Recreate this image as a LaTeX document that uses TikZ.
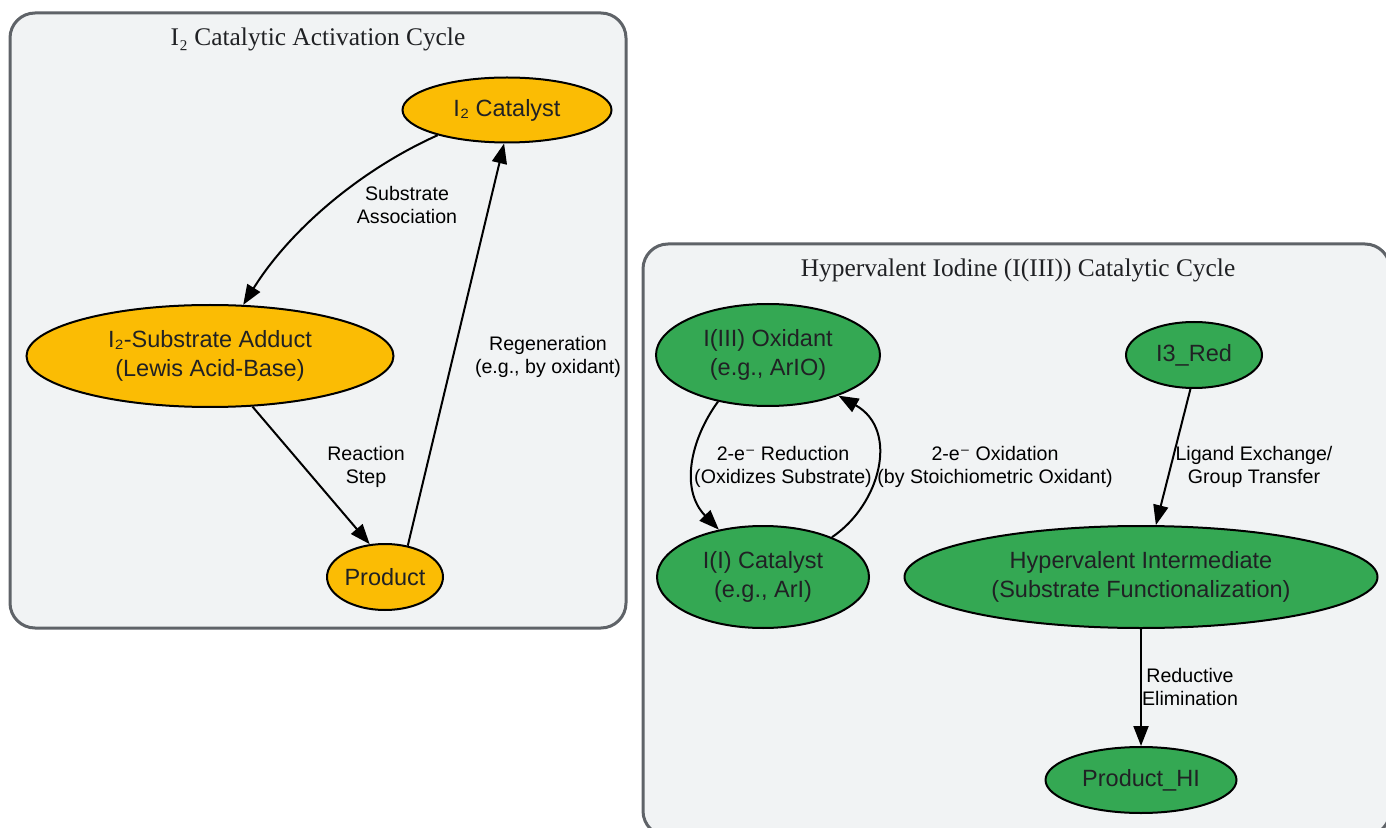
\documentclass[tikz,border=0pt]{standalone}
\usepackage{fontspec}
\setmainfont{Liberation Sans}
\newfontfamily\titlefont{Liberation Serif}
\newfontfamily\symfont{DejaVu Sans}
\usepackage{tikz}
\usetikzlibrary{positioning}
\usetikzlibrary{shapes,arrows.meta}
\definecolor{clusterfill}{HTML}{F1F3F4}
\definecolor{clusterdraw}{HTML}{5F6368}
\definecolor{amber}{HTML}{FBBC04}
\definecolor{leaf}{HTML}{34A853}
\definecolor{ink}{HTML}{202124}
\newcommand{\eminus}{{\symfont ⁻}}
\tikzset{
cluster/.style = {draw=clusterdraw, fill=clusterfill, line width=1.5pt, rounded corners=12.5pt},
ctitle/.style = {font=\titlefont\fontsize{12.7}{15}\selectfont, text=ink},
state/.style = {draw, ellipse, line width=1pt, inner sep=0pt, text=ink, align=center,
  font=\fontsize{11.75}{14.5}\selectfont},
ostate/.style = {state, fill=amber},
gstate/.style = {state, fill=leaf},
lbl/.style = {align=center, font=\fontsize{9.8}{11.5}\selectfont},
flow/.style = {line width=1pt, -{Triangle[length=10pt,width=7.5pt]}}
}
\begin{document}
\begin{tikzpicture}[x=0.5pt, y=-0.5pt]
    \useasboundingbox (0,0) rectangle (1386,828);
    % We start by drawing the two clusters
    \draw [cluster] (10,13) rectangle (626,628);
    \draw [cluster] (643,244) rectangle (1390,836);
    \node [ctitle] (t1) at (318,39) {I₂ Catalytic Activation Cycle};
    \node [ctitle] (t2) at (1018,270) {Hypervalent Iodine (I(III)) Catalytic Cycle};

    % I2 cycle
    \node [ostate, minimum width=104.5pt, minimum height=32.5pt] (cat) at (507,110) {I₂ Catalyst};
    \node [ostate, minimum width=183.5pt, minimum height=51pt] (adduct) at (210,356) {I₂-Substrate Adduct\\(Lewis Acid-Base)};
    \node [ostate, minimum width=58pt, minimum height=33pt] (prod) at (385,577) {Product};

    \draw [flow] (cat.200) .. controls (360,170) and (290,230) .. (adduct.57);
    \draw [flow] (adduct.310) -- (prod.115);
    \draw [flow] (prod.54) -- (cat.265);
    \node [lbl] (l1) at (407,205) {Substrate\\Association};
    \node [lbl] (l2) at (366,467) {Reaction\\Step};
    \node [lbl] (l3) at (548,357) {Regeneration\\(e.g., by oxidant)};

    % I(III) cycle
    \node [gstate, minimum width=112pt, minimum height=51pt] (ox) at (768,355) {I(III) Oxidant\\(e.g., ArIO)};
    \node [gstate, minimum width=68pt, minimum height=33pt] (red) at (1194,355) {I3\_Red};
    \node [gstate, minimum width=106pt, minimum height=51pt] (ii) at (763,577) {I(I) Catalyst\\(e.g., ArI)};
    \node [gstate, minimum width=236.5pt, minimum height=51pt] (hyper) at (1141,577) {Hypervalent Intermediate\\(Substrate Functionalization)};
    \node [gstate, minimum width=95.5pt, minimum height=33pt] (phi) at (1141,780) {Product\_HI};

    \draw [flow] (ox.223) .. controls (690,440) and (680,490) .. (ii.133.5);
    \draw [flow] (ii.30.5) .. controls (880,505) and (900,430) .. (ox.330.4);
    \draw [flow] (red.264) -- (hyper.74.6);
    \draw [flow] (hyper.south) -- (phi.north);
    \node [lbl] (l4) at (783,467) {2-e\eminus{} Reduction\\(Oxidizes Substrate)};
    \node [lbl] (l5) at (995,467) {2-e\eminus{} Oxidation\\(by Stoichiometric Oxidant)};
    \node [lbl] (l6) at (1254,467) {Ligand Exchange/\\Group Transfer};
    \node [lbl] (l7) at (1190,687) {Reductive\\Elimination};
\end{tikzpicture}
\end{document}
